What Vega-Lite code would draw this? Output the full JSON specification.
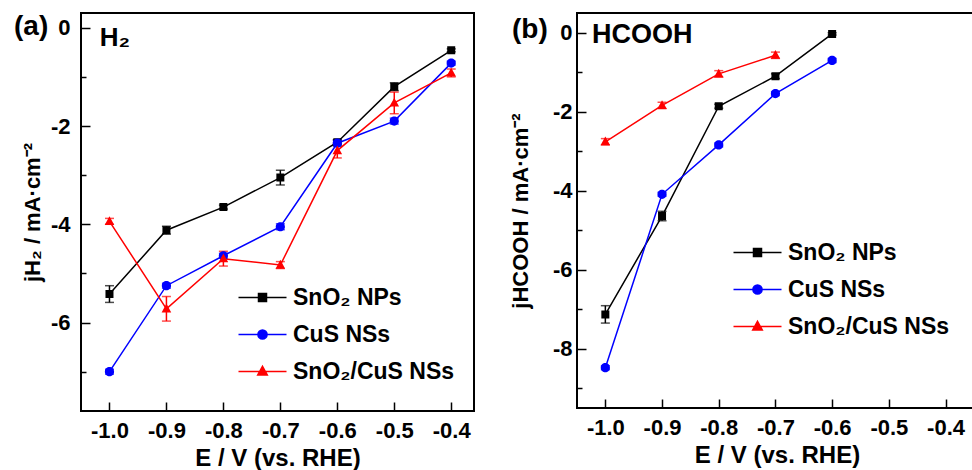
{
  "$schema": "https://vega.github.io/schema/vega-lite/v6.json",
  "background": "white",
  "padding": {"left": 13, "top": 12, "right": 0, "bottom": 0},
  "spacing": 31,
  "datasets": {
    "a": [
      {"series": "SnO₂ NPs", "E": -1.0, "j": -5.42},
      {"series": "SnO₂ NPs", "E": -0.9, "j": -4.12},
      {"series": "SnO₂ NPs", "E": -0.8, "j": -3.65},
      {"series": "SnO₂ NPs", "E": -0.7, "j": -3.05},
      {"series": "SnO₂ NPs", "E": -0.6, "j": -2.33},
      {"series": "SnO₂ NPs", "E": -0.5, "j": -1.2},
      {"series": "SnO₂ NPs", "E": -0.4, "j": -0.46},
      {"series": "CuS NSs", "E": -1.0, "j": -7.0},
      {"series": "CuS NSs", "E": -0.9, "j": -5.25},
      {"series": "CuS NSs", "E": -0.8, "j": -4.64},
      {"series": "CuS NSs", "E": -0.7, "j": -4.05},
      {"series": "CuS NSs", "E": -0.6, "j": -2.35},
      {"series": "CuS NSs", "E": -0.5, "j": -1.9},
      {"series": "CuS NSs", "E": -0.4, "j": -0.72},
      {"series": "SnO₂/CuS NSs", "E": -1.0, "j": -3.94},
      {"series": "SnO₂/CuS NSs", "E": -0.9, "j": -5.72},
      {"series": "SnO₂/CuS NSs", "E": -0.8, "j": -4.7},
      {"series": "SnO₂/CuS NSs", "E": -0.7, "j": -4.83},
      {"series": "SnO₂/CuS NSs", "E": -0.6, "j": -2.5},
      {"series": "SnO₂/CuS NSs", "E": -0.5, "j": -1.53},
      {"series": "SnO₂/CuS NSs", "E": -0.4, "j": -0.92}
    ],
    "aerr": [
      {"series": "SnO₂ NPs", "E": -1.0, "lo": -5.59, "hi": -5.25},
      {"series": "SnO₂ NPs", "E": -0.9, "lo": -4.2, "hi": -4.04},
      {"series": "SnO₂ NPs", "E": -0.8, "lo": -3.69, "hi": -3.61},
      {"series": "SnO₂ NPs", "E": -0.7, "lo": -3.2, "hi": -2.9},
      {"series": "SnO₂ NPs", "E": -0.6, "lo": -2.38, "hi": -2.28},
      {"series": "SnO₂ NPs", "E": -0.5, "lo": -1.28, "hi": -1.12},
      {"series": "SnO₂ NPs", "E": -0.4, "lo": -0.49, "hi": -0.43},
      {"series": "CuS NSs", "E": -1.0, "lo": -7.05, "hi": -6.95},
      {"series": "CuS NSs", "E": -0.9, "lo": -5.3, "hi": -5.2},
      {"series": "CuS NSs", "E": -0.8, "lo": -4.69, "hi": -4.59},
      {"series": "CuS NSs", "E": -0.7, "lo": -4.11, "hi": -3.99},
      {"series": "CuS NSs", "E": -0.6, "lo": -2.41, "hi": -2.29},
      {"series": "CuS NSs", "E": -0.5, "lo": -1.96, "hi": -1.84},
      {"series": "CuS NSs", "E": -0.4, "lo": -0.76, "hi": -0.68},
      {"series": "SnO₂/CuS NSs", "E": -1.0, "lo": -4.0, "hi": -3.88},
      {"series": "SnO₂/CuS NSs", "E": -0.9, "lo": -5.97, "hi": -5.47},
      {"series": "SnO₂/CuS NSs", "E": -0.8, "lo": -4.85, "hi": -4.55},
      {"series": "SnO₂/CuS NSs", "E": -0.7, "lo": -4.9, "hi": -4.76},
      {"series": "SnO₂/CuS NSs", "E": -0.6, "lo": -2.65, "hi": -2.35},
      {"series": "SnO₂/CuS NSs", "E": -0.5, "lo": -1.75, "hi": -1.31},
      {"series": "SnO₂/CuS NSs", "E": -0.4, "lo": -1.0, "hi": -0.84}
    ],
    "b": [
      {"series": "SnO₂ NPs", "E": -1.0, "j": -7.13},
      {"series": "SnO₂ NPs", "E": -0.9, "j": -4.64},
      {"series": "SnO₂ NPs", "E": -0.8, "j": -1.86},
      {"series": "SnO₂ NPs", "E": -0.7, "j": -1.1},
      {"series": "SnO₂ NPs", "E": -0.6, "j": -0.03},
      {"series": "CuS NSs", "E": -1.0, "j": -8.48},
      {"series": "CuS NSs", "E": -0.9, "j": -4.09},
      {"series": "CuS NSs", "E": -0.8, "j": -2.84},
      {"series": "CuS NSs", "E": -0.7, "j": -1.54},
      {"series": "CuS NSs", "E": -0.6, "j": -0.7},
      {"series": "SnO₂/CuS NSs", "E": -1.0, "j": -2.76},
      {"series": "SnO₂/CuS NSs", "E": -0.9, "j": -1.84},
      {"series": "SnO₂/CuS NSs", "E": -0.8, "j": -1.04},
      {"series": "SnO₂/CuS NSs", "E": -0.7, "j": -0.57}
    ],
    "berr": [
      {"series": "SnO₂ NPs", "E": -1.0, "lo": -7.35, "hi": -6.91},
      {"series": "SnO₂ NPs", "E": -0.9, "lo": -4.76, "hi": -4.52},
      {"series": "SnO₂ NPs", "E": -0.8, "lo": -1.91, "hi": -1.81},
      {"series": "SnO₂ NPs", "E": -0.7, "lo": -1.16, "hi": -1.04},
      {"series": "SnO₂ NPs", "E": -0.6, "lo": -0.06, "hi": 0.0},
      {"series": "CuS NSs", "E": -1.0, "lo": -8.53, "hi": -8.43},
      {"series": "CuS NSs", "E": -0.9, "lo": -4.14, "hi": -4.04},
      {"series": "CuS NSs", "E": -0.8, "lo": -2.89, "hi": -2.79},
      {"series": "CuS NSs", "E": -0.7, "lo": -1.59, "hi": -1.49},
      {"series": "CuS NSs", "E": -0.6, "lo": -0.75, "hi": -0.65},
      {"series": "SnO₂/CuS NSs", "E": -1.0, "lo": -2.84, "hi": -2.68},
      {"series": "SnO₂/CuS NSs", "E": -0.9, "lo": -1.92, "hi": -1.76},
      {"series": "SnO₂/CuS NSs", "E": -0.8, "lo": -1.12, "hi": -0.96},
      {"series": "SnO₂/CuS NSs", "E": -0.7, "lo": -0.65, "hi": -0.49}
    ],
    "alabel": [{"t": "H₂", "E": -1.017, "j": -0.38}],
    "blabel": [{"t": "HCOOH", "E": -1.0235, "j": -0.25}]
  },
  "resolve": {
    "scale": {"x": "independent", "y": "independent", "color": "independent", "fill": "independent", "stroke": "independent", "shape": "independent"}
  },
  "hconcat": [
    {
      "width": 393,
      "height": 398,
      "title": {"text": "(a)", "anchor": "start", "frame": "group", "offset": 0, "dx": -67, "dy": 50, "baseline": "alphabetic", "fontSize": 28, "fontWeight": "bold", "font": "Liberation Sans", "color": "black"},
      "layer": [
        {
          "data": {"name": "aerr"},
          "mark": {"type": "errorbar", "ticks": {"size": 9}, "thickness": 1.5},
          "encoding": {
            "x": {"field": "E", "type": "quantitative", "title": "E / V (vs. RHE)", "scale": {"domain": [-1.05, -0.36], "nice": false, "zero": false}},
            "y": {"field": "lo", "type": "quantitative", "title": "jH₂ / mA·cm⁻²", "scale": {"domain": [-7.8, 0.3], "nice": false, "zero": false}},
            "y2": {"field": "hi"},
            "color": {"field": "series", "type": "nominal", "legend": null, "scale": {"domain": ["CuS NSs", "SnO₂ NPs", "SnO₂/CuS NSs"], "range": ["#0000ff", "#000000", "#ff0000"]}}
          }
        },
        {
          "data": {"name": "a"},
          "mark": {"type": "line", "strokeWidth": 1.5},
          "encoding": {
            "x": {"field": "E", "type": "quantitative", "title": "E / V (vs. RHE)", "scale": {"domain": [-1.05, -0.36], "nice": false, "zero": false},
              "axis": {"titleFontSize": 24, "titlePadding": 24, "minExtent": 30, "maxExtent": 30, "labelFontSize": 22,
                "values": [-1.0, -0.95, -0.9, -0.85, -0.8, -0.75, -0.7, -0.65, -0.6, -0.55, -0.5, -0.45, -0.4],
                "labelExpr": "abs(datum.value*10 - round(datum.value*10)) > 0.25 ? '' : replace(format(datum.value, '.1f'), '\u2212', '-')",
                "tickSize": {"condition": {"test": "abs(datum.value*10 - round(datum.value*10)) > 0.25", "value": -5}, "value": -9},
                "labelPadding": 18}},
            "y": {"field": "j", "type": "quantitative", "title": "jH₂ / mA·cm⁻²", "scale": {"domain": [-7.8, 0.3], "nice": false, "zero": false},
              "axis": {"titleFontSize": 22, "titlePadding": 12, "minExtent": 30, "maxExtent": 30,
                "values": [0, -1, -2, -3, -4, -5, -6, -7],
                "labelExpr": "datum.value % 2 !== 0 ? '' : replace(format(datum.value, 'd'), '\u2212', '-')",
                "tickSize": {"condition": {"test": "datum.value % 2 !== 0", "value": -5}, "value": -9},
                "labelPadding": 20}},
            "color": {"field": "series", "type": "nominal", "legend": null, "scale": {"domain": ["CuS NSs", "SnO₂ NPs", "SnO₂/CuS NSs"], "range": ["#0000ff", "#000000", "#ff0000"]}}
          }
        },
        {
          "data": {"name": "a"},
          "mark": {"type": "point", "filled": true, "size": 64, "opacity": 1},
          "encoding": {
            "x": {"field": "E", "type": "quantitative", "title": "E / V (vs. RHE)"},
            "y": {"field": "j", "type": "quantitative", "title": "jH₂ / mA·cm⁻²"},
            "fill": {"field": "series", "type": "nominal", "scale": {"domain": ["SnO₂ NPs", "CuS NSs", "SnO₂/CuS NSs"], "range": ["#000000", "#0000ff", "#ff0000"]},
              "legend": {"orient": "none", "legendX": 170, "legendY": 273, "title": null, "labelFontSize": 23, "labelFontWeight": "bold", "labelFont": "Liberation Sans", "labelColor": "black", "symbolSize": 64, "symbolStrokeWidth": 1.5, "labelOffset": 19, "rowPadding": 13, "padding": 0, "labelLimit": 400, "symbolOpacity": 1}},
            "stroke": {"field": "series", "type": "nominal", "scale": {"domain": ["SnO₂ NPs", "CuS NSs", "SnO₂/CuS NSs"], "range": ["#000000", "#0000ff", "#ff0000"]},
              "legend": {"orient": "none", "legendX": 170, "legendY": 273, "title": null, "labelFontSize": 23, "labelFontWeight": "bold", "labelFont": "Liberation Sans", "labelColor": "black", "symbolSize": 64, "symbolStrokeWidth": 1.5, "labelOffset": 19, "rowPadding": 13, "padding": 0, "labelLimit": 400, "symbolOpacity": 1}},
            "shape": {"field": "series", "type": "nominal", "scale": {"domain": ["SnO₂ NPs", "CuS NSs", "SnO₂/CuS NSs"], "range": ["M-1,-1L1,-1L1,1L-1,1Z M-6,0L6,0", "M-1.15,0A1.15,1.15,0,1,1,1.15,0A1.15,1.15,0,1,1,-1.15,0Z M-6,0L6,0", "M0,-1.3L1.2,0.9L-1.2,0.9Z M-6,0L6,0"]},
              "legend": {"orient": "none", "legendX": 170, "legendY": 273, "title": null, "labelFontSize": 23, "labelFontWeight": "bold", "labelFont": "Liberation Sans", "labelColor": "black", "symbolSize": 64, "symbolStrokeWidth": 1.5, "labelOffset": 19, "rowPadding": 13, "padding": 0, "labelLimit": 400, "symbolOpacity": 1}},
            "strokeWidth": {"value": 0}
          }
        },
        {
          "data": {"name": "alabel"},
          "mark": {"type": "text", "align": "left", "baseline": "alphabetic", "fontSize": 26, "fontWeight": "bold", "font": "Liberation Sans", "color": "black"},
          "encoding": {
            "x": {"field": "E", "type": "quantitative", "title": "E / V (vs. RHE)"},
            "y": {"field": "j", "type": "quantitative", "title": "jH₂ / mA·cm⁻²"},
            "text": {"field": "t"}
          }
        }
      ]
    },
    {
      "width": 400,
      "height": 395,
      "title": {"text": "(b)", "anchor": "start", "frame": "group", "offset": 0, "dx": -65, "dy": 53, "baseline": "alphabetic", "fontSize": 28, "fontWeight": "bold", "font": "Liberation Sans", "color": "black"},
      "layer": [
        {
          "data": {"name": "berr"},
          "mark": {"type": "errorbar", "ticks": {"size": 9}, "thickness": 1.5},
          "encoding": {
            "x": {"field": "E", "type": "quantitative", "title": "E / V (vs. RHE)", "scale": {"domain": [-1.05, -0.3445], "nice": false, "zero": false}},
            "y": {"field": "lo", "type": "quantitative", "title": "jHCOOH / mA·cm⁻²", "scale": {"domain": [-9.5, 0.5], "nice": false, "zero": false}},
            "y2": {"field": "hi"},
            "color": {"field": "series", "type": "nominal", "legend": null, "scale": {"domain": ["CuS NSs", "SnO₂ NPs", "SnO₂/CuS NSs"], "range": ["#0000ff", "#000000", "#ff0000"]}}
          }
        },
        {
          "data": {"name": "b"},
          "mark": {"type": "line", "strokeWidth": 1.5},
          "encoding": {
            "x": {"field": "E", "type": "quantitative", "title": "E / V (vs. RHE)", "scale": {"domain": [-1.05, -0.3445], "nice": false, "zero": false},
              "axis": {"titleFontSize": 24, "titlePadding": 24, "minExtent": 30, "maxExtent": 30, "labelFontSize": 22,
                "values": [-1.0, -0.95, -0.9, -0.85, -0.8, -0.75, -0.7, -0.65, -0.6, -0.55, -0.5, -0.45, -0.4],
                "labelExpr": "abs(datum.value*10 - round(datum.value*10)) > 0.25 ? '' : replace(format(datum.value, '.1f'), '\u2212', '-')",
                "tickSize": {"condition": {"test": "abs(datum.value*10 - round(datum.value*10)) > 0.25", "value": -5}, "value": -9},
                "labelPadding": 18}},
            "y": {"field": "j", "type": "quantitative", "title": "jHCOOH / mA·cm⁻²", "scale": {"domain": [-9.5, 0.5], "nice": false, "zero": false},
              "axis": {"titleFontSize": 22, "titlePadding": 20, "minExtent": 30, "maxExtent": 30,
                "values": [0, -1, -2, -3, -4, -5, -6, -7, -8, -9],
                "labelExpr": "datum.value % 2 !== 0 ? '' : replace(format(datum.value, 'd'), '\u2212', '-')",
                "tickSize": {"condition": {"test": "datum.value % 2 !== 0", "value": -5}, "value": -9},
                "labelPadding": 14}},
            "color": {"field": "series", "type": "nominal", "legend": null, "scale": {"domain": ["CuS NSs", "SnO₂ NPs", "SnO₂/CuS NSs"], "range": ["#0000ff", "#000000", "#ff0000"]}}
          }
        },
        {
          "data": {"name": "b"},
          "mark": {"type": "point", "filled": true, "size": 64, "opacity": 1},
          "encoding": {
            "x": {"field": "E", "type": "quantitative", "title": "E / V (vs. RHE)"},
            "y": {"field": "j", "type": "quantitative", "title": "jHCOOH / mA·cm⁻²"},
            "fill": {"field": "series", "type": "nominal", "scale": {"domain": ["SnO₂ NPs", "CuS NSs", "SnO₂/CuS NSs"], "range": ["#000000", "#0000ff", "#ff0000"]},
              "legend": {"orient": "none", "legendX": 169, "legendY": 228, "title": null, "labelFontSize": 23, "labelFontWeight": "bold", "labelFont": "Liberation Sans", "labelColor": "black", "symbolSize": 64, "symbolStrokeWidth": 1.5, "labelOffset": 19, "rowPadding": 13, "padding": 0, "labelLimit": 400, "symbolOpacity": 1}},
            "stroke": {"field": "series", "type": "nominal", "scale": {"domain": ["SnO₂ NPs", "CuS NSs", "SnO₂/CuS NSs"], "range": ["#000000", "#0000ff", "#ff0000"]},
              "legend": {"orient": "none", "legendX": 169, "legendY": 228, "title": null, "labelFontSize": 23, "labelFontWeight": "bold", "labelFont": "Liberation Sans", "labelColor": "black", "symbolSize": 64, "symbolStrokeWidth": 1.5, "labelOffset": 19, "rowPadding": 13, "padding": 0, "labelLimit": 400, "symbolOpacity": 1}},
            "shape": {"field": "series", "type": "nominal", "scale": {"domain": ["SnO₂ NPs", "CuS NSs", "SnO₂/CuS NSs"], "range": ["M-1,-1L1,-1L1,1L-1,1Z M-6,0L6,0", "M-1.15,0A1.15,1.15,0,1,1,1.15,0A1.15,1.15,0,1,1,-1.15,0Z M-6,0L6,0", "M0,-1.3L1.2,0.9L-1.2,0.9Z M-6,0L6,0"]},
              "legend": {"orient": "none", "legendX": 169, "legendY": 228, "title": null, "labelFontSize": 23, "labelFontWeight": "bold", "labelFont": "Liberation Sans", "labelColor": "black", "symbolSize": 64, "symbolStrokeWidth": 1.5, "labelOffset": 19, "rowPadding": 13, "padding": 0, "labelLimit": 400, "symbolOpacity": 1}},
            "strokeWidth": {"value": 0}
          }
        },
        {
          "data": {"name": "blabel"},
          "mark": {"type": "text", "align": "left", "baseline": "alphabetic", "fontSize": 27, "fontWeight": "bold", "font": "Liberation Sans", "color": "black"},
          "encoding": {
            "x": {"field": "E", "type": "quantitative", "title": "E / V (vs. RHE)"},
            "y": {"field": "j", "type": "quantitative", "title": "jHCOOH / mA·cm⁻²"},
            "text": {"field": "t"}
          }
        }
      ]
    }
  ],
  "config": {
    "font": "Liberation Sans",
    "view": {"stroke": "black", "strokeWidth": 2},
    "axis": {
      "domain": false, "grid": false, "tickColor": "black", "tickWidth": 1.5,
      "labelColor": "black", "labelFont": "Liberation Sans", "labelFontSize": 22, "labelFontWeight": "bold",
      "titleColor": "black", "titleFont": "Liberation Sans", "titleFontWeight": "bold",
      "labelFlush": false, "labelOverlap": false, "titleBaseline": "alphabetic"
    }
  }
}
